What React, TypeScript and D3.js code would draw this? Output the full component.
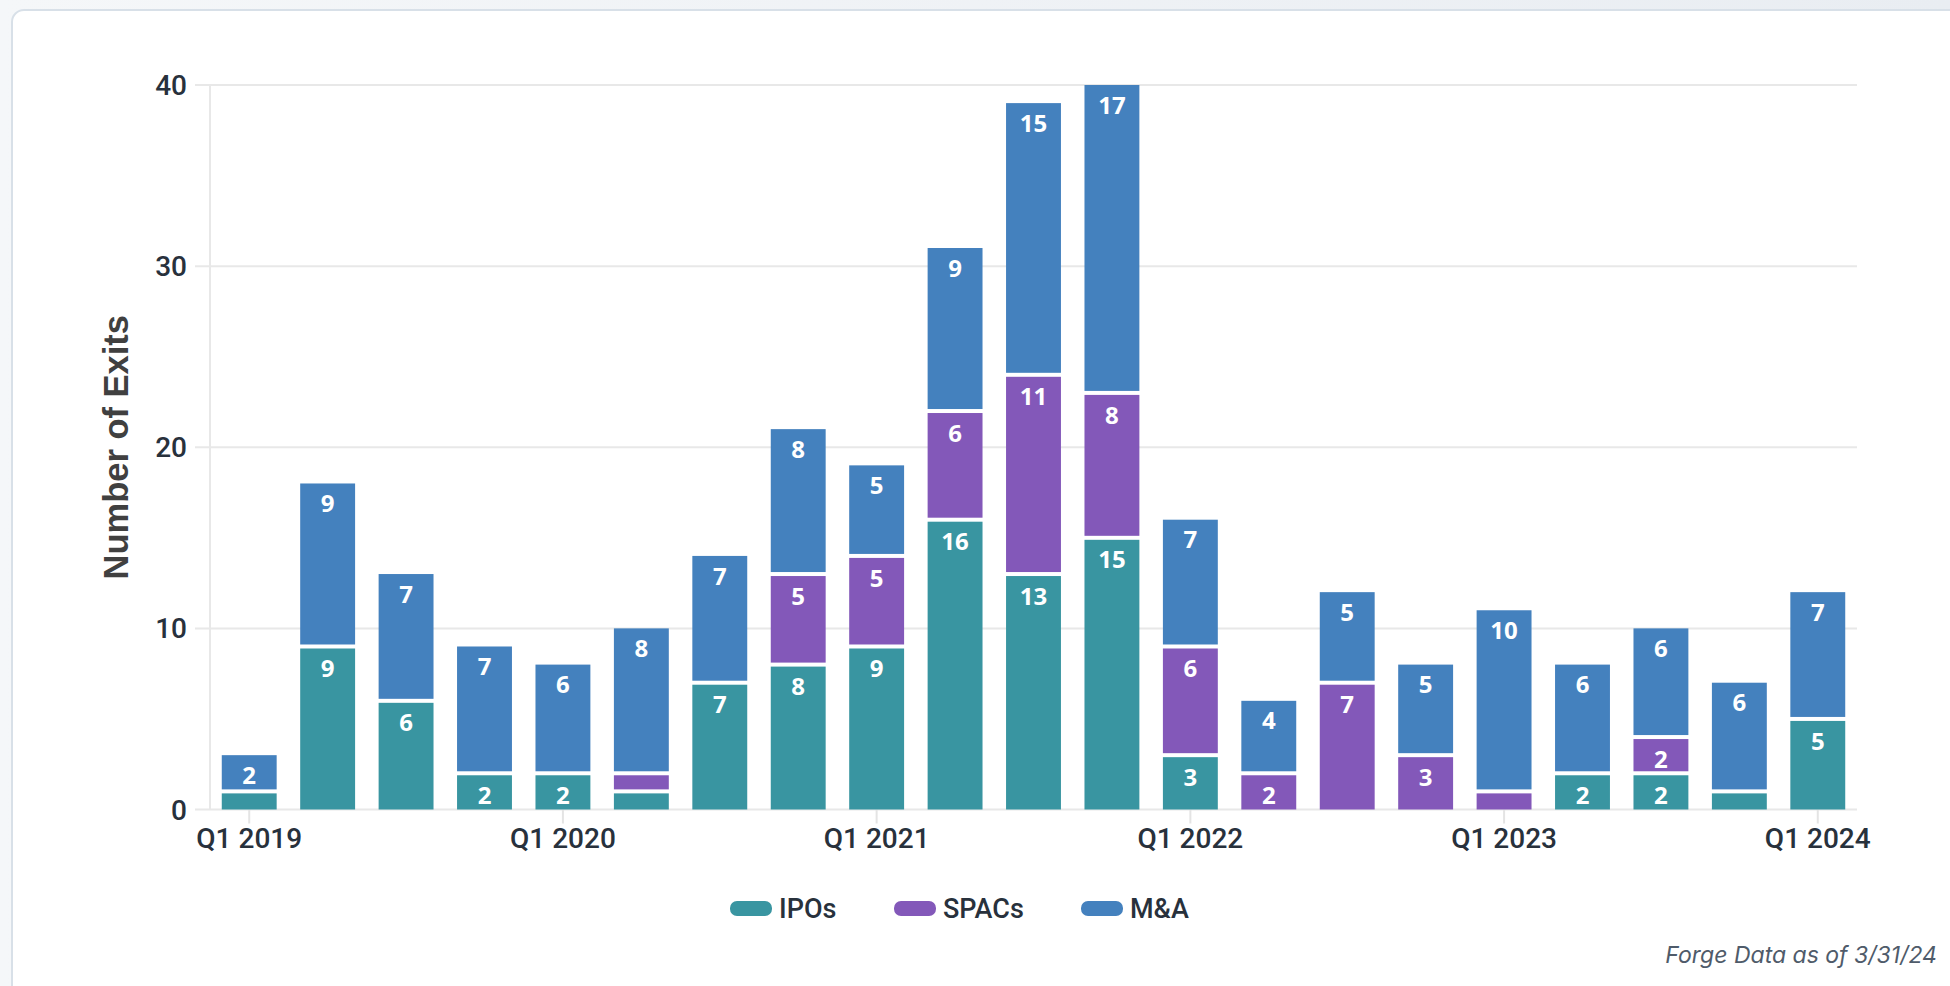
import React, { useRef, useEffect } from 'react';
import * as d3 from 'd3';

// quarters on the x axis
const quarters = [
  'Q1 2019', 'Q2 2019', 'Q3 2019', 'Q4 2019',
  'Q1 2020', 'Q2 2020', 'Q3 2020', 'Q4 2020',
  'Q1 2021', 'Q2 2021', 'Q3 2021', 'Q4 2021',
  'Q1 2022', 'Q2 2022', 'Q3 2022', 'Q4 2022',
  'Q1 2023', 'Q2 2023', 'Q3 2023', 'Q4 2023',
  'Q1 2024',
];

const ipos = [1, 9, 6, 2, 2, 1, 7, 8, 9, 16, 13, 15, 3, 0, 0, 0, 0, 2, 2, 1, 5];
const spacs = [0, 0, 0, 0, 0, 1, 0, 5, 5, 6, 11, 8, 6, 2, 7, 3, 1, 0, 2, 0, 0];
const mna = [2, 9, 7, 7, 6, 8, 7, 8, 5, 9, 15, 17, 7, 4, 5, 5, 10, 6, 6, 6, 7];

const seriesNames = ['IPOs', 'SPACs', 'M&A'];
const seriesColors = ['#3995a1', '#8358b9', '#4481be'];

const xTickLabels = ['Q1 2019', 'Q1 2020', 'Q1 2021', 'Q1 2022', 'Q1 2023', 'Q1 2024'];
const yTicks = [0, 10, 20, 30, 40];

const W = 1950;
const H = 986;

const App = () => {
  const svgRef = useRef<SVGSVGElement | null>(null);

  useEffect(() => {
    const svg = d3.select(svgRef.current).attr('width', W).attr('height', H);
    svg.selectAll('*').remove();

    // fundo e moldura
    const defs = svg.append('defs');
    const grad = defs.append('linearGradient').attr('id', 'bg').attr('x1', 0).attr('x2', 1).attr('y1', 0).attr('y2', 0);
    grad.append('stop').attr('offset', '0%').attr('stop-color', '#f5f7f9');
    grad.append('stop').attr('offset', '100%').attr('stop-color', '#e9edf2');
    svg.append('rect').attr('width', W).attr('height', H).attr('fill', 'url(#bg)');
    svg.append('rect')
      .attr('x', 12).attr('y', 10)
      .attr('width', W + 40).attr('height', H + 40)
      .attr('rx', 12)
      .attr('fill', '#ffffff')
      .attr('stroke', '#d8e0e8')
      .attr('stroke-width', 2);

    const left = 210, right = 1857, top = 85, bottom = 809.5;

    const x = d3.scaleBand<string>().domain(quarters).range([left, right]).paddingInner(0.3).paddingOuter(0.15);
    const y = d3.scaleLinear().domain([0, 40]).range([bottom, top]);

    const g = svg.append('g');

    // grid
    g.selectAll('.grid')
      .data(yTicks)
      .enter()
      .append('line')
      .attr('x1', 195).attr('x2', right)
      .attr('y1', d => y(d)).attr('y2', d => y(d))
      .attr('stroke', '#e8e8e8')
      .attr('stroke-width', 2);

    g.append('line')
      .attr('x1', left).attr('x2', left)
      .attr('y1', top).attr('y2', bottom)
      .attr('stroke', '#e8e8e8')
      .attr('stroke-width', 2);

    // y labels
    g.selectAll('.ylab')
      .data(yTicks)
      .enter()
      .append('text')
      .attr('x', 187)
      .attr('y', d => y(d))
      .attr('dy', '0.36em')
      .attr('text-anchor', 'end')
      .attr('font-family', 'Roboto, sans-serif')
      .attr('font-weight', 500)
      .attr('font-size', 28)
      .attr('fill', '#28313c')
      .text(d => d);

    // x ticks & labels
    const xt = g.selectAll('.xt').data(xTickLabels).enter().append('g');
    xt.append('line')
      .attr('x1', d => x(d)! + x.bandwidth() / 2)
      .attr('x2', d => x(d)! + x.bandwidth() / 2)
      .attr('y1', bottom).attr('y2', bottom + 14)
      .attr('stroke', '#e4e4e4').attr('stroke-width', 2);
    xt.append('text')
      .attr('x', d => x(d)! + x.bandwidth() / 2)
      .attr('y', 848)
      .attr('text-anchor', 'middle')
      .attr('font-family', 'Roboto, sans-serif')
      .attr('font-weight', 500)
      .attr('font-size', 28)
      .attr('fill', '#28313c')
      .text(d => d);

    // stacked bars
    const rows = quarters.map((q, i) => ({ q, IPOs: ipos[i], SPACs: spacs[i], 'M&A': mna[i] }));
    const stack = d3.stack<any>().keys(seriesNames)(rows);

    stack.forEach((layer, li) => {
      layer.forEach((seg, i) => {
        const v = seg[1] - seg[0];
        if (v <= 0) return;
        const total = ipos[i] + spacs[i] + mna[i];
        let y0 = y(seg[0]);
        let y1 = y(seg[1]);
        if (seg[0] > 0) y0 -= 2;
        if (seg[1] < total) y1 += 2;
        g.append('rect')
          .attr('x', x(quarters[i])!)
          .attr('y', y1)
          .attr('width', x.bandwidth())
          .attr('height', Math.max(0, y0 - y1))
          .attr('fill', seriesColors[li]);
        if (v > 1) {
          g.append('text')
            .attr('x', x(quarters[i])! + x.bandwidth() / 2)
            .attr('y', y(seg[1]) + (seg[1] < total ? 2 : 0) + 20)
            .attr('dy', '0.36em')
            .attr('text-anchor', 'middle')
            .attr('font-family', '"Open Sans", sans-serif')
            .attr('font-weight', 700)
            .attr('font-size', 24)
            .attr('fill', '#ffffff')
            .text(v);
        }
      });
    });

    // y axis title
    svg.append('text')
      .attr('transform', `translate(128, ${(top + bottom) / 2}) rotate(-90)`)
      .attr('text-anchor', 'middle')
      .attr('font-family', '"Liberation Sans", Arial, sans-serif')
      .attr('font-weight', 700)
      .attr('font-size', 34.5)
      .attr('fill', '#404040')
      .text('Number of Exits');

    // legend
    const legendX = [730, 894, 1081];
    seriesNames.forEach((name, i) => {
      svg.append('rect')
        .attr('x', legendX[i]).attr('y', 901)
        .attr('width', 42).attr('height', 15)
        .attr('rx', 7)
        .attr('fill', seriesColors[i]);
      svg.append('text')
        .attr('x', legendX[i] + 49).attr('y', 918)
        .attr('font-family', 'Roboto, sans-serif')
        .attr('font-weight', 500)
        .attr('font-size', 27)
        .attr('fill', '#28313c')
        .text(name);
    });

    // credit
    svg.append('text')
      .attr('x', 1937).attr('y', 963)
      .attr('text-anchor', 'end')
      .attr('font-family', 'Inter, sans-serif')
      .attr('font-style', 'italic')
      .attr('font-size', 23)
      .attr('fill', '#4f5b6a')
      .text('Forge Data as of 3/31/24');
  }, []);

  return (
    <div style={{ position: 'fixed', left: 0, top: 0 }}>
      <svg ref={svgRef}></svg>
    </div>
  );
};

export default App;
